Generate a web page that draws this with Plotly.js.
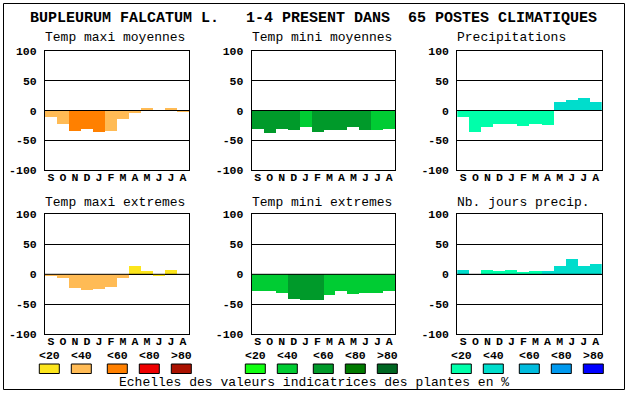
<!DOCTYPE html>
<html>
<head>
<meta charset="utf-8">
<script src="https://cdn.plot.ly/plotly-3.0.1.min.js"></script>
<style>
html,body{margin:0;padding:0;background:#fff;}
#chart{width:630px;height:394px;}
</style>
</head>
<body>
<div id="chart"></div>
<script>
// ---- data ----
const months = ['S','O','N','D','J','F','M','A','M','J','J','A'];
const yTickVals = [-100,-50,0,50,100];
const yTickText = ['-100','-50','0','50','100'];
const legendLabels = ['<20','<40','<60','<80','>80'];
const mainTitle = 'BUPLEURUM FALCATUM L.   1-4 PRESENT DANS  65 POSTES CLIMATIQUES';
const footerText = 'Echelles des valeurs indicatrices des plantes en %';

const panelTitles = ['Temp maxi moyennes','Temp mini moyennes','Precipitations',
                     'Temp maxi extremes','Temp mini extremes','Nb. jours precip.'];

const tmaxMoy    = [-11,-22,-34,-31,-36,-34,-14,-4,4,0,4,-2];
const tmaxMoyCls = [1,1,2,2,2,1,1,1,1,1,1,1];
const tminMoy    = [-31,-37,-31,-32,-27,-36,-32,-32,-27,-32,-32,-31];
const tminMoyCls = [2,2,2,2,1,2,2,2,2,2,1,1];
const precip     = [-11,-36,-27,-22,-22,-26,-22,-24,14,18,21,14];
const precipCls  = [0,0,0,0,0,0,0,0,1,1,1,1];
const tmaxExt    = [-2,-6,-22,-26,-24,-21,-6,14,6,-2,7,0];
const tmaxExtCls = [1,1,1,1,1,1,1,0,0,0,0,0];
const tminExt    = [-27,-27,-31,-41,-42,-42,-34,-27,-32,-31,-31,-27];
const tminExtCls = [1,1,1,2,2,2,1,1,1,1,1,1];
const nbJours    = [7,0,7,6,7,4,6,6,14,26,14,17];
const nbJoursCls = [1,0,0,0,0,0,0,1,1,1,1,1];

// ---- styles ----
const warm  = ['#FCE51C','#FFBB55','#FF8000','#EE0000','#AA1100'];
const green = ['#11FF11','#00CC33','#009A2A','#007A00','#006622'];
const blue  = ['#00FFAA','#00DDCC','#00BBDD','#0099EE','#0000FF'];

const W = 630, H = 394;
const px = v => v / W;
const py = v => 1 - v / H;

const colsX = [[45,189],[251.7,395.3],[457.3,601.7]];
const rowsY = [[50.7,170.3],[214.3,334.3]];
const titleY = [38, 202.7];

const panels = [
  {y: tmaxMoy, c: tmaxMoyCls, pal: warm},
  {y: tminMoy, c: tminMoyCls, pal: green},
  {y: precip,  c: precipCls,  pal: blue},
  {y: tmaxExt, c: tmaxExtCls, pal: warm},
  {y: tminExt, c: tminExtCls, pal: green},
  {y: nbJours, c: nbJoursCls, pal: blue}
];

const MONO = 'Liberation Mono, DejaVu Sans Mono, monospace';
const tickFont = {family: MONO, size: 11.5, color: '#000', weight: 'bold'};

const data = [];
const layout = {
  width: W, height: H,
  margin: {l:0, r:0, t:0, b:0},
  paper_bgcolor: '#fff', plot_bgcolor: '#fff',
  showlegend: false,
  bargap: 0,
  shapes: [], annotations: []
};

panels.forEach((p, i) => {
  const n = i + 1;
  const col = i % 3, row = Math.floor(i / 3);
  const xs = months.map((_, k) => k);
  data.push({
    type: 'bar', x: xs, y: p.y,
    xaxis: 'x' + n, yaxis: 'y' + n,
    width: 1,
    marker: {color: p.c.map(k => p.pal[k]), line: {width: 0}},
    hoverinfo: 'skip'
  });
  layout['xaxis' + n] = {
    domain: [px(colsX[col][0]), px(colsX[col][1])],
    anchor: 'y' + n,
    range: [-0.5, 11.5],
    tickmode: 'array', tickvals: xs, ticktext: months,
    tickfont: tickFont, ticks: '', ticklabelstandoff: -4,
    showgrid: false, zeroline: false,
    showline: true, mirror: true, linecolor: '#000', linewidth: 1,
    fixedrange: true
  };
  layout['yaxis' + n] = {
    domain: [py(rowsY[row][1]), py(rowsY[row][0])],
    anchor: 'x' + n,
    range: [-100, 100],
    tickmode: 'array', tickvals: yTickVals, ticktext: yTickText,
    tickfont: tickFont, ticks: '', ticklabelstandoff: 5,
    showgrid: true, gridcolor: '#000', gridwidth: 1,
    zeroline: false,
    showline: true, mirror: true, linecolor: '#000', linewidth: 1,
    fixedrange: true
  };
  layout.shapes.push({
    type: 'line', xref: 'x' + n + ' domain', x0: 0, x1: 1,
    yref: 'y' + n, y0: 0, y1: 0,
    line: {color: '#000', width: 1}, layer: 'above'
  });
  layout.annotations.push({
    text: panelTitles[i], showarrow: false,
    xref: 'paper', yref: 'paper',
    x: px(colsX[col][0]), y: py(titleY[row]), xshift: -2,
    xanchor: 'left', yanchor: 'middle',
    font: {family: MONO, size: 13, color: '#000'}
  });
});

// legend swatches (three colour scales)
const legendBoxX = [
  [39.3, 71.3, 107.3, 139.3, 171.3],
  [245.3, 277.3, 313.3, 345.3, 377.3],
  [451.3, 483.3, 519.3, 551.3, 583.3]
];
const pals = [warm, green, blue];
legendBoxX.forEach((xsArr, g) => {
  xsArr.forEach((x0, k) => {
    layout.shapes.push({
      type: 'rect', xref: 'paper', yref: 'paper',
      x0: px(x0), x1: px(x0 + 20), y0: py(373.5), y1: py(364),
      fillcolor: pals[g][k], line: {color: '#000', width: 1}, layer: 'above'
    });
    layout.annotations.push({
      text: legendLabels[k], showarrow: false,
      xref: 'paper', yref: 'paper',
      x: px(x0 + 10), y: py(355.5), xanchor: 'center', yanchor: 'middle',
      font: {family: MONO, size: 11.5, color: '#000', weight: 'bold'}
    });
  });
});

// outer frame
layout.shapes.push({
  type: 'rect', xref: 'paper', yref: 'paper',
  x0: px(3.5), x1: px(624.5), y0: py(389.5), y1: py(3.5),
  line: {color: '#000', width: 1}, fillcolor: 'rgba(0,0,0,0)', layer: 'above'
});

// main title
layout.annotations.push({
  text: mainTitle.replace(/ /g, '\u00A0'), showarrow: false,
  xref: 'paper', yref: 'paper',
  x: px(30), y: py(18), xshift: -2, xanchor: 'left', yanchor: 'middle',
  font: {family: MONO, size: 15, color: '#000', weight: 'bold'}
});
// footer
layout.annotations.push({
  text: footerText, showarrow: false,
  xref: 'paper', yref: 'paper',
  x: px(314), y: py(382), xanchor: 'center', yanchor: 'middle',
  font: {family: MONO, size: 13, color: '#000'}
});

Plotly.newPlot('chart', data, layout, {staticPlot: true, displayModeBar: false});
</script>
</body>
</html>
